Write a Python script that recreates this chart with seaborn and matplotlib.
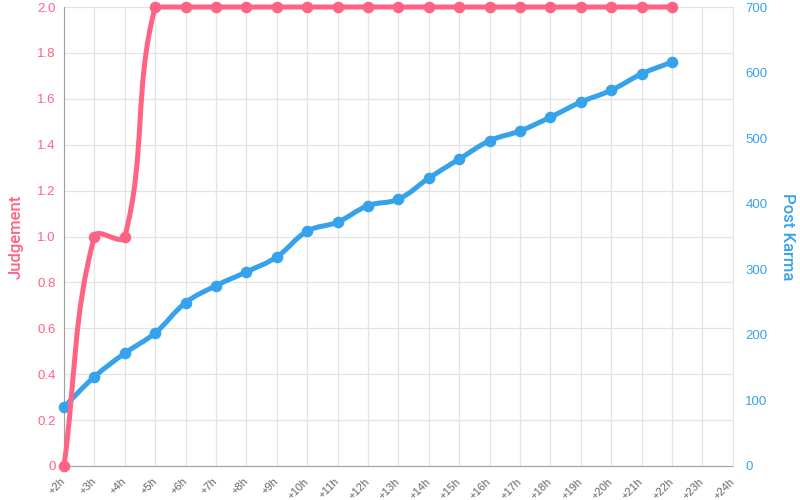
import numpy as np
import matplotlib
matplotlib.use("Agg")
import matplotlib.pyplot as plt
from matplotlib.path import Path
from matplotlib.patches import PathPatch
from matplotlib.ticker import FuncFormatter
import seaborn as sns

# categories on the x axis
hours = ["+2h", "+3h", "+4h", "+5h", "+6h", "+7h", "+8h", "+9h", "+10h", "+11h", "+12h",
         "+13h", "+14h", "+15h", "+16h", "+17h", "+18h", "+19h", "+20h", "+21h", "+22h",
         "+23h", "+24h"]

# series (data only up to +22h)
judgement = [0, 1, 1, 2, 2, 2, 2, 2, 2, 2, 2, 2, 2, 2, 2, 2, 2, 2, 2, 2, 2]
karma = [90, 136, 172, 203, 249, 275, 296, 319, 358, 372, 397, 407, 439, 468,
         496, 511, 532, 555, 573, 598, 616]

PINK = "#ff6384"
BLUE = "#36a2eb"
GRID = "#e3e3e3"


def spline_patch(ax, ys, color, tension=0.4):
    # chart.js style bezier through the points, computed in pixel space
    xs = np.arange(len(ys))
    pts = ax.transData.transform(np.column_stack([xs, ys]))
    bb = ax.bbox
    n = len(pts)
    verts = [pts[0]]
    codes = [Path.MOVETO]
    ctrl = []
    for i in range(n):
        p0 = pts[max(i - 1, 0)]
        p1 = pts[i]
        p2 = pts[min(i + 1, n - 1)]
        d01 = np.hypot(*(p1 - p0))
        d12 = np.hypot(*(p2 - p1))
        tot = d01 + d12
        s01 = d01 / tot if tot else 0
        s12 = d12 / tot if tot else 0
        prev_c = p1 - tension * s01 * (p2 - p0)
        next_c = p1 + tension * s12 * (p2 - p0)
        prev_c = np.clip(prev_c, [bb.x0, bb.y0], [bb.x1, bb.y1])
        next_c = np.clip(next_c, [bb.x0, bb.y0], [bb.x1, bb.y1])
        ctrl.append((prev_c, next_c))
    for i in range(1, n):
        verts += [ctrl[i - 1][1], ctrl[i][0], pts[i]]
        codes += [Path.CURVE4] * 3
    verts = ax.transData.inverted().transform(np.array(verts))
    patch = PathPatch(Path(verts, codes), facecolor="none", edgecolor=color,
                      lw=3.6, capstyle="round", joinstyle="round", clip_on=False)
    ax.add_patch(patch)


sns.set_style("white")
plt.rcParams["font.family"] = ["Liberation Sans", "DejaVu Sans"]

fig = plt.figure(figsize=(8, 5), dpi=100)
# base axes: grid, x labels, left ticks
ax = fig.add_axes([0.08, 0.068, 0.836, 0.918])
# blue series + right axis
ax2 = ax.twinx()
# pink series on top
ax3 = ax.twinx()

ax.set_xlim(0, len(hours) - 1)
ax.set_ylim(0, 2)
ax3.set_ylim(0, 2)
ax2.set_ylim(0, 700)

ax.set_xticks(range(len(hours)))
ax.set_xticklabels(hours, rotation=45, ha="right", va="center", rotation_mode="anchor")
ax.set_yticks(np.arange(0, 2.01, 0.2))
ax.yaxis.set_major_formatter(FuncFormatter(lambda v, p: "0" if v == 0 else f"{v:.1f}"))
ax2.set_yticks(range(0, 701, 100))
ax.grid(True, color=GRID, lw=0.9)
ax2.grid(False)
ax3.grid(False)
ax3.yaxis.set_visible(False)

ax.tick_params(axis="x", colors=GRID, length=6, width=0.9, labelcolor="#666666",
               labelsize=8, pad=4)
ax.tick_params(axis="y", length=0, labelcolor=PINK, labelsize=9.5, pad=6)
ax2.tick_params(axis="y", length=0, labelcolor=BLUE, labelsize=9.5, pad=9)

for a in (ax, ax2, ax3):
    a.spines["top"].set_visible(False)
for a in (ax2, ax3):
    a.spines["left"].set_visible(False)
    a.spines["bottom"].set_visible(False)
ax3.spines["right"].set_visible(False)
ax.spines["right"].set_visible(False)
ax.spines["left"].set_color("#a0a0a0")
ax.spines["bottom"].set_color("#a0a0a0")
ax2.spines["right"].set_color(GRID)

ax.set_ylabel("Judgement", color=PINK, fontsize=12, labelpad=10,
              family=["Roboto", "DejaVu Sans"], fontweight="medium")
ax2.set_ylabel("Post Karma", color=BLUE, fontsize=12, rotation=-90, labelpad=20,
               family=["Roboto", "DejaVu Sans"], fontweight="medium")

# curves
spline_patch(ax2, karma, BLUE)
spline_patch(ax3, judgement, PINK)

sns.scatterplot(x=np.arange(len(karma)), y=karma, ax=ax2, color=BLUE, s=70,
                edgecolor=BLUE, linewidth=0, clip_on=False, zorder=5)
sns.scatterplot(x=np.arange(len(judgement)), y=judgement, ax=ax3, color=PINK, s=70,
                edgecolor=PINK, linewidth=0, clip_on=False, zorder=5)

ax.set_zorder(0)
ax2.set_zorder(1)
ax3.set_zorder(2)
ax2.patch.set_visible(False)
ax3.patch.set_visible(False)

fig.savefig("out.png", dpi=100)
